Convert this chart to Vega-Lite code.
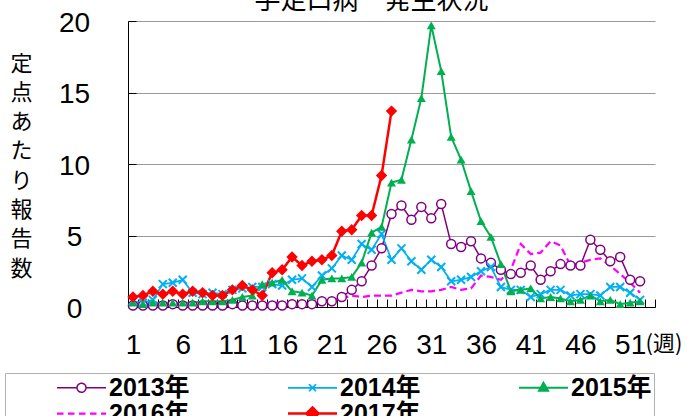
{
"$schema": "https://vega.github.io/schema/vega-lite/v6.json",
"width": 527, "height": 286,
"autosize": "none",
"padding": {"left": 128, "top": 21, "right": 37, "bottom": 109},
"background": "white",
"config": {"view": {"stroke": null}},
"title": {"text": "手足口病　発生状況", "font": "Noto Sans CJK JP", "fontSize": 26, "fontWeight": "normal", "color": "black", "baseline": "alphabetic", "offset": -26, "dx": -20, "frame": "group"},
"data": {"values": [
{"w":1,"s":"2013年","v":0.1},{"w":2,"s":"2013年","v":0.1},{"w":3,"s":"2013年","v":0.1},{"w":4,"s":"2013年","v":0.1},{"w":5,"s":"2013年","v":0.2},{"w":6,"s":"2013年","v":0.1},{"w":7,"s":"2013年","v":0.1},{"w":8,"s":"2013年","v":0.1},{"w":9,"s":"2013年","v":0.1},{"w":10,"s":"2013年","v":0.1},
{"w":11,"s":"2013年","v":0.2},{"w":12,"s":"2013年","v":0.1},{"w":13,"s":"2013年","v":0.1},{"w":14,"s":"2013年","v":0.1},{"w":15,"s":"2013年","v":0.1},{"w":16,"s":"2013年","v":0.1},{"w":17,"s":"2013年","v":0.2},{"w":18,"s":"2013年","v":0.2},{"w":19,"s":"2013年","v":0.2},{"w":20,"s":"2013年","v":0.4},
{"w":21,"s":"2013年","v":0.4},{"w":22,"s":"2013年","v":0.7},{"w":23,"s":"2013年","v":1.2},{"w":24,"s":"2013年","v":1.8},{"w":25,"s":"2013年","v":2.9},{"w":26,"s":"2013年","v":4.1},{"w":27,"s":"2013年","v":6.5},{"w":28,"s":"2013年","v":7.1},{"w":29,"s":"2013年","v":6.1},{"w":30,"s":"2013年","v":7.0},
{"w":31,"s":"2013年","v":6.2},{"w":32,"s":"2013年","v":7.2},{"w":33,"s":"2013年","v":4.4},{"w":34,"s":"2013年","v":4.2},{"w":35,"s":"2013年","v":4.6},{"w":36,"s":"2013年","v":3.4},{"w":37,"s":"2013年","v":3.1},{"w":38,"s":"2013年","v":2.6},{"w":39,"s":"2013年","v":2.3},{"w":40,"s":"2013年","v":2.4},
{"w":41,"s":"2013年","v":2.9},{"w":42,"s":"2013年","v":1.9},{"w":43,"s":"2013年","v":2.5},{"w":44,"s":"2013年","v":3.0},{"w":45,"s":"2013年","v":2.9},{"w":46,"s":"2013年","v":2.9},{"w":47,"s":"2013年","v":4.7},{"w":48,"s":"2013年","v":4.0},{"w":49,"s":"2013年","v":3.2},{"w":50,"s":"2013年","v":3.5},
{"w":51,"s":"2013年","v":1.9},{"w":52,"s":"2013年","v":1.8},
{"w":1,"s":"2014年","v":0.4},{"w":2,"s":"2014年","v":0.3},{"w":3,"s":"2014年","v":0.5},{"w":4,"s":"2014年","v":1.6},{"w":5,"s":"2014年","v":1.7},{"w":6,"s":"2014年","v":1.9},{"w":7,"s":"2014年","v":1.0},{"w":8,"s":"2014年","v":0.9},{"w":9,"s":"2014年","v":1.0},{"w":10,"s":"2014年","v":0.9},
{"w":11,"s":"2014年","v":1.2},{"w":12,"s":"2014年","v":1.3},{"w":13,"s":"2014年","v":1.4},{"w":14,"s":"2014年","v":1.4},{"w":15,"s":"2014年","v":1.6},{"w":16,"s":"2014年","v":1.5},{"w":17,"s":"2014年","v":1.9},{"w":18,"s":"2014年","v":2.0},{"w":19,"s":"2014年","v":1.4},{"w":20,"s":"2014年","v":2.2},
{"w":21,"s":"2014年","v":2.7},{"w":22,"s":"2014年","v":3.6},{"w":23,"s":"2014年","v":3.3},{"w":24,"s":"2014年","v":4.4},{"w":25,"s":"2014年","v":4.0},{"w":26,"s":"2014年","v":5.1},{"w":27,"s":"2014年","v":3.3},{"w":28,"s":"2014年","v":4.1},{"w":29,"s":"2014年","v":3.2},{"w":30,"s":"2014年","v":2.6},
{"w":31,"s":"2014年","v":3.3},{"w":32,"s":"2014年","v":2.8},{"w":33,"s":"2014年","v":1.8},{"w":34,"s":"2014年","v":1.9},{"w":35,"s":"2014年","v":2.1},{"w":36,"s":"2014年","v":2.5},{"w":37,"s":"2014年","v":2.8},{"w":38,"s":"2014年","v":1.4},{"w":39,"s":"2014年","v":1.2},{"w":40,"s":"2014年","v":1.2},
{"w":41,"s":"2014年","v":0.7},{"w":42,"s":"2014年","v":0.9},{"w":43,"s":"2014年","v":1.2},{"w":44,"s":"2014年","v":1.2},{"w":45,"s":"2014年","v":0.8},{"w":46,"s":"2014年","v":0.9},{"w":47,"s":"2014年","v":0.9},{"w":48,"s":"2014年","v":0.8},{"w":49,"s":"2014年","v":1.4},{"w":50,"s":"2014年","v":1.4},
{"w":51,"s":"2014年","v":1.0},{"w":52,"s":"2014年","v":0.5},
{"w":1,"s":"2015年","v":0.3},{"w":2,"s":"2015年","v":0.2},{"w":3,"s":"2015年","v":0.3},{"w":4,"s":"2015年","v":0.3},{"w":5,"s":"2015年","v":0.3},{"w":6,"s":"2015年","v":0.3},{"w":7,"s":"2015年","v":0.3},{"w":8,"s":"2015年","v":0.4},{"w":9,"s":"2015年","v":0.4},{"w":10,"s":"2015年","v":0.4},
{"w":11,"s":"2015年","v":0.5},{"w":12,"s":"2015年","v":0.7},{"w":13,"s":"2015年","v":0.8},{"w":14,"s":"2015年","v":1.6},{"w":15,"s":"2015年","v":1.7},{"w":16,"s":"2015年","v":1.9},{"w":17,"s":"2015年","v":1.1},{"w":18,"s":"2015年","v":1.0},{"w":19,"s":"2015年","v":0.8},{"w":20,"s":"2015年","v":1.9},
{"w":21,"s":"2015年","v":2.0},{"w":22,"s":"2015年","v":2.0},{"w":23,"s":"2015年","v":2.1},{"w":24,"s":"2015年","v":3.1},{"w":25,"s":"2015年","v":5.2},{"w":26,"s":"2015年","v":5.6},{"w":27,"s":"2015年","v":8.7},{"w":28,"s":"2015年","v":8.9},{"w":29,"s":"2015年","v":11.7},{"w":30,"s":"2015年","v":14.6},
{"w":31,"s":"2015年","v":19.7},{"w":32,"s":"2015年","v":16.5},{"w":33,"s":"2015年","v":11.9},{"w":34,"s":"2015年","v":10.3},{"w":35,"s":"2015年","v":8.1},{"w":36,"s":"2015年","v":6.0},{"w":37,"s":"2015年","v":4.9},{"w":38,"s":"2015年","v":3.0},{"w":39,"s":"2015年","v":1.1},{"w":40,"s":"2015年","v":1.2},
{"w":41,"s":"2015年","v":1.3},{"w":42,"s":"2015年","v":0.6},{"w":43,"s":"2015年","v":0.7},{"w":44,"s":"2015年","v":0.6},{"w":45,"s":"2015年","v":0.4},{"w":46,"s":"2015年","v":0.5},{"w":47,"s":"2015年","v":0.8},{"w":48,"s":"2015年","v":0.4},{"w":49,"s":"2015年","v":0.5},{"w":50,"s":"2015年","v":0.2},
{"w":51,"s":"2015年","v":0.3},{"w":52,"s":"2015年","v":0.4},
{"w":1,"s":"2016年","v":0.2},{"w":2,"s":"2016年","v":0.2},{"w":3,"s":"2016年","v":0.2},{"w":4,"s":"2016年","v":0.2},{"w":5,"s":"2016年","v":0.2},{"w":6,"s":"2016年","v":0.2},{"w":7,"s":"2016年","v":0.2},{"w":8,"s":"2016年","v":0.2},{"w":9,"s":"2016年","v":0.2},{"w":10,"s":"2016年","v":0.2},
{"w":11,"s":"2016年","v":0.2},{"w":12,"s":"2016年","v":0.2},{"w":13,"s":"2016年","v":0.2},{"w":14,"s":"2016年","v":0.2},{"w":15,"s":"2016年","v":0.3},{"w":16,"s":"2016年","v":0.3},{"w":17,"s":"2016年","v":0.3},{"w":18,"s":"2016年","v":0.3},{"w":19,"s":"2016年","v":0.4},{"w":20,"s":"2016年","v":0.5},
{"w":21,"s":"2016年","v":0.5},{"w":22,"s":"2016年","v":0.6},{"w":23,"s":"2016年","v":0.8},{"w":24,"s":"2016年","v":0.7},{"w":25,"s":"2016年","v":0.8},{"w":26,"s":"2016年","v":0.8},{"w":27,"s":"2016年","v":0.8},{"w":28,"s":"2016年","v":1.0},{"w":29,"s":"2016年","v":1.2},{"w":30,"s":"2016年","v":1.1},
{"w":31,"s":"2016年","v":1.1},{"w":32,"s":"2016年","v":1.2},{"w":33,"s":"2016年","v":1.4},{"w":34,"s":"2016年","v":1.2},{"w":35,"s":"2016年","v":1.3},{"w":36,"s":"2016年","v":2.2},{"w":37,"s":"2016年","v":2.1},{"w":38,"s":"2016年","v":1.9},{"w":39,"s":"2016年","v":2.6},{"w":40,"s":"2016年","v":4.4},
{"w":41,"s":"2016年","v":3.7},{"w":42,"s":"2016年","v":3.8},{"w":43,"s":"2016年","v":4.6},{"w":44,"s":"2016年","v":4.3},{"w":45,"s":"2016年","v":2.9},{"w":46,"s":"2016年","v":3.1},{"w":47,"s":"2016年","v":3.3},{"w":48,"s":"2016年","v":3.4},{"w":49,"s":"2016年","v":2.9},{"w":50,"s":"2016年","v":2.3},
{"w":51,"s":"2016年","v":1.7},{"w":52,"s":"2016年","v":1.0},
{"w":1,"s":"2017年","v":0.7},{"w":2,"s":"2017年","v":0.8},{"w":3,"s":"2017年","v":1.1},{"w":4,"s":"2017年","v":0.9},{"w":5,"s":"2017年","v":1.1},{"w":6,"s":"2017年","v":0.9},{"w":7,"s":"2017年","v":1.1},{"w":8,"s":"2017年","v":1.0},{"w":9,"s":"2017年","v":0.8},{"w":10,"s":"2017年","v":0.8},
{"w":11,"s":"2017年","v":1.2},{"w":12,"s":"2017年","v":1.5},{"w":13,"s":"2017年","v":1.2},{"w":14,"s":"2017年","v":0.8},{"w":15,"s":"2017年","v":2.4},{"w":16,"s":"2017年","v":2.6},{"w":17,"s":"2017年","v":3.5},{"w":18,"s":"2017年","v":2.9},{"w":19,"s":"2017年","v":3.2},{"w":20,"s":"2017年","v":3.3},
{"w":21,"s":"2017年","v":3.6},{"w":22,"s":"2017年","v":5.3},{"w":23,"s":"2017年","v":5.4},{"w":24,"s":"2017年","v":6.4},{"w":25,"s":"2017年","v":6.4},{"w":26,"s":"2017年","v":9.2},{"w":27,"s":"2017年","v":13.7}
]},
"encoding": {
  "x": {"field": "w", "type": "quantitative", "scale": {"domain": [0.5, 53.5], "nice": false, "zero": false},
    "axis": {"values": [0.5,1.5,2.5,3.5,4.5,5.5,6.5,7.5,8.5,9.5,10.5,11.5,12.5,13.5,14.5,15.5,16.5,17.5,18.5,19.5,20.5,21.5,22.5,23.5,24.5,25.5,26.5,27.5,28.5,29.5,30.5,31.5,32.5,33.5,34.5,35.5,36.5,37.5,38.5,39.5,40.5,41.5,42.5,43.5,44.5,45.5,46.5,47.5,48.5,49.5,50.5,51.5,52.5,53.5],
      "labelExpr": "((datum.value - 0.5) % 5 == 0 && datum.value < 52) ? ('' + (datum.value + 0.5)) : ''",
      "labelOffset": 5, "labelOverlap": false, "labelFlush": false, "labelBound": false, "labelAlign": "center",
      "labelFont": "Liberation Sans", "labelFontSize": 28, "labelColor": "black", "labelBaseline": "alphabetic", "labelPadding": 54,
      "tickSize": -8, "tickColor": "black", "tickWidth": 1, "domainColor": "black", "domainWidth": 1, "grid": false,
      "title": "(週)", "titleFont": "Noto Sans CJK JP", "titleFontSize": 22, "titleFontWeight": "normal", "titleColor": "black",
      "titleAlign": "left", "titleBaseline": "alphabetic", "titleX": 517, "titleY": 43}},
  "y": {"field": "v", "type": "quantitative", "scale": {"domain": [0, 20], "nice": false},
    "axis": {"values": [0, 5, 10, 15, 20], "grid": true, "gridColor": "#999999", "gridWidth": 1,
      "tickSize": -8, "tickColor": "black", "domainColor": "black", "domainWidth": 1,
      "labelAlign": "center", "labelPadding": 62, "labelBaseline": "alphabetic", "labelOffset": 10, "labelFlush": false,
      "labelFont": "Liberation Sans", "labelFontSize": 28, "labelColor": "black",
      "title": ["定", "点", "あ", "た", "り", "報", "告", "数"], "titleAngle": 0, "titleAlign": "center", "titleBaseline": "middle",
      "titleX": -107, "titleY": 42, "titleFont": "Noto Sans CJK JP", "titleFontSize": 22, "titleFontWeight": "normal",
      "titleLineHeight": 29.3, "titleColor": "black"}}
},
"layer": [
  {"mark": {"type": "line", "interpolate": "linear"},
   "encoding": {
     "color": {"field": "s", "type": "nominal",
       "scale": {"domain": ["2013年", "2014年", "2015年", "2016年", "2017年"], "range": ["#800080", "#00B0F0", "#00B050", "#FF00FF", "#FF0000"]},
       "legend": {"orient": "none", "legendX": -123, "legendY": 352, "columns": 3, "direction": "horizontal", "title": null, "padding": 2,
         "strokeColor": "#b0b0b0", "fillColor": "white", "symbolSize": 400, "symbolOffset": 62, "labelOffset": 15,
         "columnPadding": 48, "rowPadding": -4, "labelFont": "Liberation Sans, Noto Sans CJK JP", "labelFontSize": 25,
         "labelFontWeight": "bold", "labelColor": "black", "labelBaseline": "middle", "labelLimit": 300,
         "labelExpr": "datum.label + '       '",
         "encode": {"symbols": {"update": {
           "shape": {"signal": "datum.value === '2013年' ? 'M-2.45,0L-0.45,0M0.45,0L2.45,0M0.45,0A0.45,0.45 0 1 1 -0.45,0A0.45,0.45 0 1 1 0.45,0Z' : datum.value === '2014年' ? 'M-2.45,0L2.45,0M-0.35,-0.35L0.35,0.35M-0.35,0.35L0.35,-0.35' : datum.value === '2015年' ? 'M-2.45,0L2.45,0M0,-0.5L0.45,0.3L-0.45,0.3Z' : datum.value === '2016年' ? 'M-2.45,0L-1.8,0M-1.35,0L-0.7,0M-0.25,0L0.4,0M0.85,0L1.5,0M1.95,0L2.45,0' : 'M-2.45,0L2.45,0M0,-0.6L0.6,0L0,0.6L-0.6,0Z'"},
           "fill": {"signal": "datum.value === '2013年' ? 'white' : datum.value === '2015年' ? '#00B050' : datum.value === '2017年' ? '#FF0000' : 'transparent'"},
           "stroke": {"signal": "datum.value === '2013年' ? '#800080' : datum.value === '2014年' ? '#00B0F0' : datum.value === '2015年' ? '#00B050' : datum.value === '2016年' ? '#FF00FF' : '#FF0000'"},
           "strokeWidth": {"signal": "datum.value === '2013年' ? 1.5 : datum.value === '2017年' ? 3.5 : 2.5"},
           "strokeDash": {"value": [1, 0]},
           "opacity": {"value": 1}, "fillOpacity": {"value": 1}
         }}}}},
     "strokeDash": {"field": "s", "type": "nominal", "scale": {"domain": ["2013年", "2014年", "2015年", "2016年", "2017年"], "range": [[1, 0], [1, 0], [1, 0], [7, 4], [1, 0]]}, "legend": null},
     "strokeWidth": {"field": "s", "type": "nominal", "scale": {"domain": ["2013年", "2014年", "2015年", "2016年", "2017年"], "range": [1.5, 2.5, 2.5, 2.5, 3.5]}, "legend": null}
   }},
  {"transform": [{"filter": "datum.s === '2013年'"}],
   "mark": {"type": "point", "shape": "circle", "size": 81, "filled": true, "fill": "white", "stroke": "#800080", "strokeWidth": 1.5, "opacity": 1}},
  {"transform": [{"filter": "datum.s === '2014年'"}],
   "mark": {"type": "point", "shape": "M-1,-1L1,1M-1,1L1,-1", "size": 64, "filled": false, "stroke": "#00B0F0", "strokeWidth": 2, "opacity": 1}},
  {"transform": [{"filter": "datum.s === '2015年'"}],
   "mark": {"type": "point", "shape": "triangle-up", "size": 81, "filled": true, "color": "#00B050", "opacity": 1}},
  {"transform": [{"filter": "datum.s === '2017年'"}],
   "mark": {"type": "point", "shape": "diamond", "size": 130, "filled": true, "color": "#FF0000", "opacity": 1}}
]
}
